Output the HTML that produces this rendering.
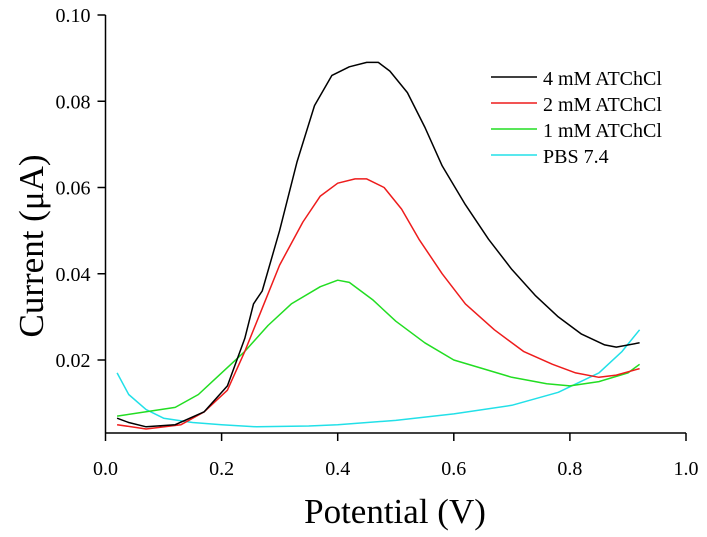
<!DOCTYPE html>
<html><head><meta charset="utf-8"><style>
html,body{margin:0;padding:0;background:#fff}
svg{display:block;font-family:"Liberation Serif",serif}
</style></head><body>
<svg id="chart" width="707" height="537">
<g id="axes"></g>
<g id="series"></g>
<g id="legend"></g>
<text x="395" y="523" font-size="35" text-anchor="middle">Potential (V)</text>
<text transform="translate(43,246) rotate(-90)" font-size="35" text-anchor="middle">Current (μA)</text>
</svg>
<script>
const xTicks=[0.0,0.2,0.4,0.6,0.8,1.0];
const xTickLabels=["0.0","0.2","0.4","0.6","0.8","1.0"];
const yTicks=[0.02,0.04,0.06,0.08,0.10];
const yTickLabels=["0.02","0.04","0.06","0.08","0.10"];
const seriesNames=["4 mM ATChCl","2 mM ATChCl","1 mM ATChCl","PBS 7.4"];
const seriesColors=["#000000","#ee1c1c","#22dd22","#22e0e8"];
const x4=[0.02,0.04,0.07,0.12,0.17,0.21,0.24,0.255,0.26,0.27,0.30,0.33,0.36,0.39,0.42,0.45,0.47,0.49,0.52,0.55,0.58,0.62,0.66,0.70,0.74,0.78,0.82,0.86,0.88,0.92];
const y4=[0.0065,0.0055,0.0045,0.005,0.008,0.014,0.025,0.033,0.034,0.036,0.050,0.066,0.079,0.086,0.088,0.089,0.089,0.087,0.082,0.074,0.065,0.056,0.048,0.041,0.035,0.030,0.026,0.0235,0.023,0.024];
const x2=[0.02,0.07,0.13,0.17,0.21,0.24,0.27,0.30,0.34,0.37,0.40,0.43,0.45,0.48,0.51,0.54,0.58,0.62,0.67,0.72,0.77,0.81,0.85,0.88,0.92];
const y2=[0.005,0.004,0.005,0.008,0.013,0.022,0.032,0.042,0.052,0.058,0.061,0.062,0.062,0.060,0.055,0.048,0.040,0.033,0.027,0.022,0.019,0.017,0.016,0.0165,0.018];
const x1=[0.02,0.07,0.12,0.16,0.20,0.24,0.28,0.32,0.37,0.40,0.42,0.46,0.50,0.55,0.60,0.65,0.70,0.76,0.80,0.85,0.90,0.92];
const y1=[0.007,0.008,0.009,0.012,0.017,0.022,0.028,0.033,0.037,0.0385,0.038,0.034,0.029,0.024,0.020,0.018,0.016,0.0145,0.014,0.015,0.017,0.019];
const xp=[0.02,0.04,0.07,0.10,0.15,0.20,0.26,0.35,0.40,0.50,0.60,0.70,0.78,0.85,0.89,0.92];
const yp=[0.017,0.012,0.0085,0.0065,0.0055,0.005,0.0045,0.0047,0.005,0.006,0.0075,0.0095,0.0125,0.017,0.022,0.027];
const NS="http://www.w3.org/2000/svg";
const X0=105.5,X1=686,YT=15,YB=433;
function sx(v){return X0+v*(X1-X0);}
function sy(v){return 360-(v-0.02)/0.02*86.25;}
function mk(t,a,p){const e=document.createElementNS(NS,t);for(const k in a)e.setAttribute(k,a[k]);p.appendChild(e);return e;}
const axes=document.getElementById('axes');
let l=mk('line',{x1:X0,y1:YB,x2:X1,y2:YB,stroke:'#000','stroke-width':1.5},axes);


l=mk('line',{x1:X0,y1:YT,x2:X0,y2:YB,stroke:'#000','stroke-width':1.5},axes);


xTicks.forEach((v,i)=>{
 const t=mk('line',{x1:sx(v),y1:YB,x2:sx(v),y2:YB+8,stroke:'#000','stroke-width':1.5},axes);
 
 
 const tx=mk('text',{x:sx(v),y:YB+42,'font-size':20,'text-anchor':'middle'},axes);
 tx.textContent=xTickLabels[i];
 
 
});
yTicks.forEach((v,i)=>{
 const t=mk('line',{x1:X0-8,y1:sy(v),x2:X0,y2:sy(v),stroke:'#000','stroke-width':1.5},axes);
 
 
 const tx=mk('text',{x:X0-15,y:sy(v)+7,'font-size':20,'text-anchor':'end'},axes);
 tx.textContent=yTickLabels[i];
 
 
});
const sg=document.getElementById('series');
const allX=[x4,x2,x1,xp],allY=[y4,y2,y1,yp];
const names=['line-4mm','line-2mm','line-1mm','line-pbs'];
[3,2,1,0].forEach(i=>{
 const d=allX[i].map((v,j)=>(j?'L':'M')+sx(v).toFixed(1)+','+sy(allY[i][j]).toFixed(1)).join('');
 const p=mk('path',{d:d,fill:'none',stroke:seriesColors[i],'stroke-width':1.5,'stroke-linejoin':'round'},sg);
 
 
});
const lg=document.getElementById('legend');
seriesNames.forEach((n,i)=>{
 const y=77+i*26;
 const ln=mk('line',{x1:491,y1:y,x2:537,y2:y,stroke:seriesColors[i],'stroke-width':1.5},lg);
 
 
 const t=mk('text',{x:543,y:y+8,'font-size':20},lg);
 t.textContent=n;
 
 
});
</script>
</body></html>
